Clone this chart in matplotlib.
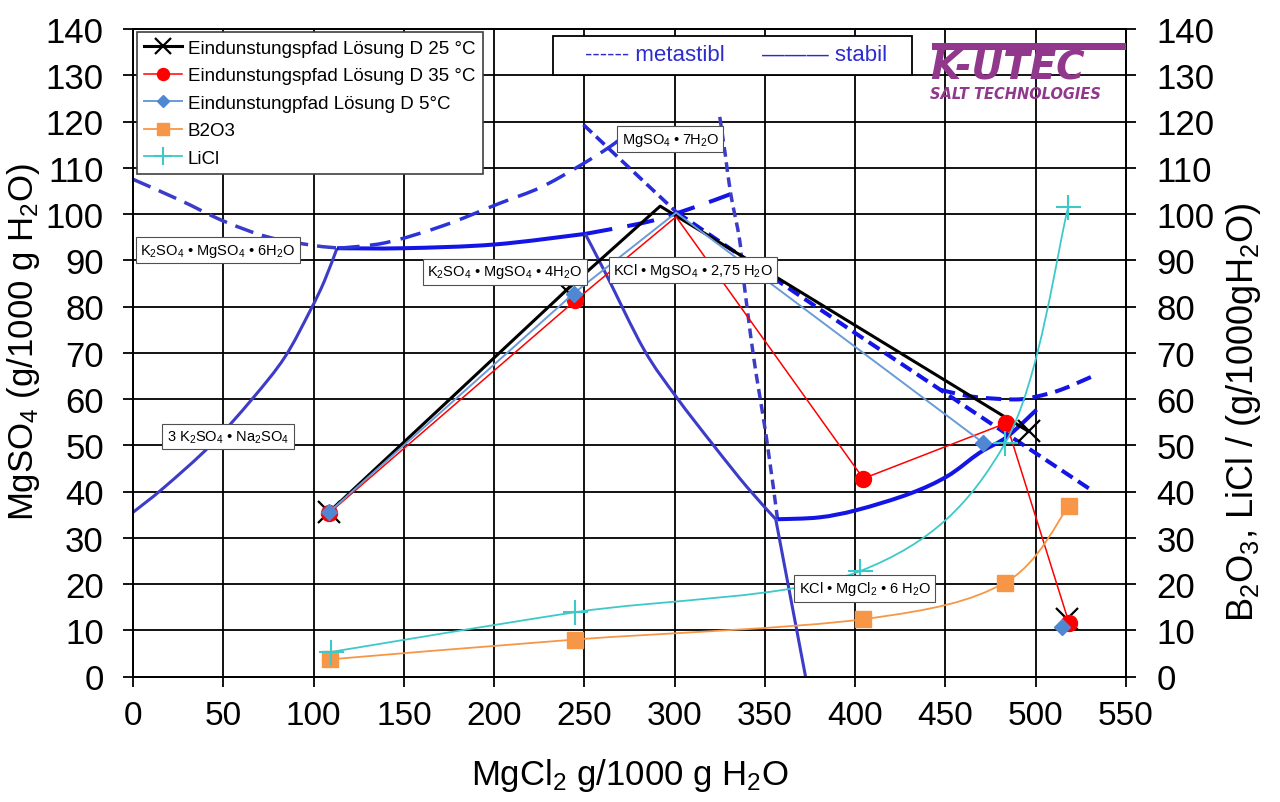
import numpy as np
import matplotlib
matplotlib.use('Agg')
from matplotlib import pyplot as plt
from matplotlib.path import Path
from matplotlib.patches import PathPatch, Rectangle
from matplotlib.lines import Line2D

plt.rcParams['font.family'] = ['Liberation Sans', 'DejaVu Sans']
plt.rcParams['mathtext.fontset'] = 'custom'
plt.rcParams['mathtext.rm'] = 'Liberation Sans'
plt.rcParams['mathtext.it'] = 'Liberation Sans:italic'
plt.rcParams['mathtext.bf'] = 'Liberation Sans:bold'

# evaporation paths, x = MgCl2, y = MgSO4 (g/1000 g H2O)
x25 = [108.5, 240, 292, 496, np.nan, 517.5]
y25 = [35.5, 83.5, 101.7, 53, np.nan, 12.5]
x35 = [108.5, 245, 300.8, 404.5, 483.7, 518.5]
y35 = [35.3, 81.3, 99.4, 42.8, 54.8, 11.5]
x5 = [108.5, 244, 300.8, 471, np.nan, 514.5]
y5 = [35.5, 82.8, 100.3, 50.5, np.nan, 10.6]

# right axis (B2O3, LiCl)
xb = [109, 245, 404.6, 483, 518.2]
b2o3 = [3.7, 8.0, 12.4, 20.3, 36.8]
xl = [109.5, 244.9, 402.8, 483.1, 518]
licl = [5.3, 13.9, 22.8, 50.5, 101.5]

# phase diagram boundaries
glas_x = [0, 17, 43, 66, 84, 98, 106, 113]
glas_y = [35.5, 40.8, 50, 60, 69, 79, 85.5, 92.6]
meta_left_x = [0, 26, 50, 75, 100, 115]
meta_left_y = [107.5, 103, 98.5, 95, 93.2, 92.6]
schoen_x = [113, 150, 200, 250.5]
schoen_y = [92.6, 92.6, 93.4, 95.7]
schoen_meta_x = [250.5, 285, 309, 331]
schoen_meta_y = [95.7, 98.3, 101.2, 104.3]
rise_x = [114, 140, 172, 203, 225.5, 246, 264, 272]
rise_y = [92.6, 93.8, 97.5, 102.3, 105.7, 110.1, 114.5, 117]
leon_x = [250.5, 262, 283, 301, 321.5, 340, 356]
leon_y = [95.7, 87, 70.7, 60.4, 50, 41, 34]
leon_low_x = [356, 364, 372.5]
leon_low_y = [34, 17.5, 0]
epsom_x = [249.5, 301]
epsom_y = [119.3, 100.4]
kain_x = [301, 401, 532]
kain_y = [100.4, 74.0, 40]
steep_x = [325, 328, 331, 336, 338, 343.7, 351, 357]
steep_y = [121, 113, 104.5, 94.4, 86.5, 69.2, 51.2, 34]
carn_x = [357, 380, 401, 430, 451, 469, 484, 500.5]
carn_y = [34, 34.4, 36, 39.5, 43.3, 48.4, 51.8, 57.7]
carn_meta_x = [447, 465, 488, 500, 514, 532]
carn_meta_y = [62, 60.5, 59.9, 60.5, 62, 65]

def smooth(xs, ys):
	# Excel-like smoothed line as cubic bezier path
	p = np.column_stack([xs, ys]).astype(float)
	n = len(p)
	verts = [p[0]]
	codes = [Path.MOVETO]
	for i in range(n - 1):
		p0 = p[i - 1] if i > 0 else p[i]
		p3 = p[i + 2] if i + 2 < n else p[i + 1]
		verts += [p[i] + (p[i + 1] - p0) / 6, p[i + 1] - (p3 - p[i]) / 6, p[i + 1]]
		codes += [Path.CURVE4] * 3
	return Path(verts, codes)

def curve(ax, xs, ys, color, lw, ls='-', z=2):
	ax.add_patch(PathPatch(smooth(xs, ys), fill=False, ec=color, lw=lw, ls=ls,
		capstyle='butt', joinstyle='round', zorder=z))

fig = plt.figure(figsize=(12.8, 8.03), dpi=100)
ax = fig.add_axes([133/1280, 1-677.5/803, (1126-133)/1280, (677.5-30)/803])
ax2 = ax.twinx()

bright = '#1414E6'
slate = '#3C3CC8'

curve(ax, glas_x, glas_y, slate, 2.2)
curve(ax, meta_left_x, meta_left_y, slate, 2.5, (0, (5.5, 2.6)))
curve(ax, schoen_x, schoen_y, bright, 2.9)
curve(ax, schoen_meta_x, schoen_meta_y, bright, 2.9, (0, (6.8, 3.8)))
curve(ax, rise_x, rise_y, '#2A33D8', 2.5, (0, (6, 3)))
curve(ax, leon_x, leon_y, slate, 2.2)
curve(ax, leon_low_x, leon_low_y, slate, 2.2)
curve(ax, epsom_x, epsom_y, '#2A2AD8', 2.6, (0, (3.2, 1.6)))
curve(ax, kain_x, kain_y, bright, 2.9, (0, (3.2, 1.6)))
curve(ax, steep_x, steep_y, slate, 2.5, (0, (2.8, 1.6)))
curve(ax, carn_x, carn_y, bright, 2.9)
curve(ax, carn_meta_x, carn_meta_y, bright, 2.9, (0, (3.8, 2)))

l25, = ax.plot(x25, y25, color='black', lw=2.2, marker='x', ms=16, mew=1.6,
	markevery=[0, 1, 3, 5], zorder=4)
l35, = ax.plot(x35, y35, color='red', lw=1.1, marker='o', ms=11.5, mec='red',
	markevery=[0, 1, 3, 4, 5], zorder=5)
l5, = ax.plot(x5, y5, color='#6A9BD8', lw=1.4, marker='D', ms=8, mfc='#4F87D2',
	mec='#4F87D2', markevery=[0, 1, 3, 5], zorder=6)

orange = '#F79646'
cyan = '#3EC9C9'
ax2.add_patch(PathPatch(smooth(xb, b2o3), fill=False, ec=orange, lw=1.3, zorder=3))
ax2.plot(xb, b2o3, ls='none', marker='s', ms=11.5, color=orange, zorder=4)
ax2.add_patch(PathPatch(smooth(xl, licl), fill=False, ec=cyan, lw=1.3, zorder=3))
ax2.plot(xl, licl, ls='none', marker='+', ms=18, mew=1.5, color=cyan, zorder=4)

for a in (ax, ax2):
	a.set_xlim(0, 550)
	a.set_ylim(0, 140)
	a.set_yticks(np.arange(0, 141, 10))
ax.set_xticks(np.arange(0, 551, 50))
ax.grid(True, color='black', lw=1.3)
ax.set_axisbelow(True)
for a in (ax, ax2):
	for s in a.spines.values():
		s.set_linewidth(1.3)
ax.tick_params(axis='x', direction='out', length=7, width=1.3, labelsize=24, pad=10)
ax.tick_params(axis='y', direction='out', length=7, width=1.3, labelsize=25, pad=14)
ax2.tick_params(axis='y', direction='out', length=7, width=1.3, labelsize=25, pad=15)

ax.set_xlabel('MgCl$_2$ g/1000 g H$_2$O', fontsize=25, labelpad=18)
ax.set_ylabel('MgSO$_4$ (g/1000 g H$_2$O)', fontsize=25)
ax.yaxis.set_label_coords(-0.092, 0.518)
ax2.set_ylabel('B$_2$O$_3$, LiCl / (g/1000gH$_2$O)', fontsize=26)
ax2.yaxis.set_label_coords(1.099, 0.41)

# phase labels
box = dict(boxstyle='square,pad=0.3', fc='white', ec='#505050', lw=0.8)
labels = [
	(47, 92.2, 'K$_2$SO$_4$ • MgSO$_4$ • 6H$_2$O'),
	(205.8, 87.5, 'K$_2$SO$_4$ • MgSO$_4$ • 4H$_2$O'),
	(310.2, 87.9, 'KCl • MgSO$_4$ • 2,75 H$_2$O'),
	(297.5, 116.2, 'MgSO$_4$ • 7H$_2$O'),
	(52.6, 51.9, '3 K$_2$SO$_4$ • Na$_2$SO$_4$'),
	(405.4, 19.1, 'KCl • MgCl$_2$ • 6 H$_2$O'),
]
for lx, ly, s in labels:
	ax2.text(lx, ly, s, ha='center', va='center', fontsize=10.5, bbox=box, zorder=10)

handles = [
	l25, l35, l5,
	Line2D([], [], color=orange, lw=1.3, marker='s', ms=11.5),
	Line2D([], [], color=cyan, lw=1.3, marker='+', ms=18, mew=1.5),
]
names = ['Eindunstungspfad Lösung D 25 °C', 'Eindunstungspfad Lösung D 35 °C',
	'Eindunstungpfad Lösung D 5°C', 'B2O3', 'LiCl']
leg = ax2.legend(handles, names, loc='upper left', bbox_to_anchor=(0.004, 0.995),
	borderaxespad=0, fontsize=13.5, fancybox=False, framealpha=1, edgecolor='#404040',
	handlelength=2.0, handletextpad=0.3, labelspacing=0.55, borderpad=0.4, markerscale=0.75)
leg.get_frame().set_linewidth(1.2)
leg.set_zorder(20)

# metastable / stable key box
ax2.add_patch(Rectangle((0.423, 0.929), 0.3615, 0.06, transform=ax2.transAxes,
	fc='white', ec='black', lw=1.3, zorder=15))
ax2.text(0.455, 0.960, '------ metastibl', transform=ax2.transAxes, color='#2D2DCC',
	fontsize=16, va='center', ha='left', zorder=16)
ax2.text(0.633, 0.960, '——— stabil', transform=ax2.transAxes, color='#2D2DCC',
	fontsize=16, va='center', ha='left', zorder=16)

# logo
purple = '#91378C'
fig.add_artist(Rectangle((932/1280, 1-51/803), 194/1280, 7/803, transform=fig.transFigure,
	fc=purple, ec='none'))
fig.text(930/1280, 1-79/803, 'K-UTEC', fontsize=28, fontweight='bold', style='italic',
	color=purple, family='DejaVu Sans', va='baseline', ha='left')
fig.text(930/1280, 1-99/803, 'SALT TECHNOLOGIES', fontsize=10.5, fontweight='bold',
	style='italic', color=purple, family='DejaVu Sans', va='baseline', ha='left')

plt.savefig('out.png', dpi=100)
